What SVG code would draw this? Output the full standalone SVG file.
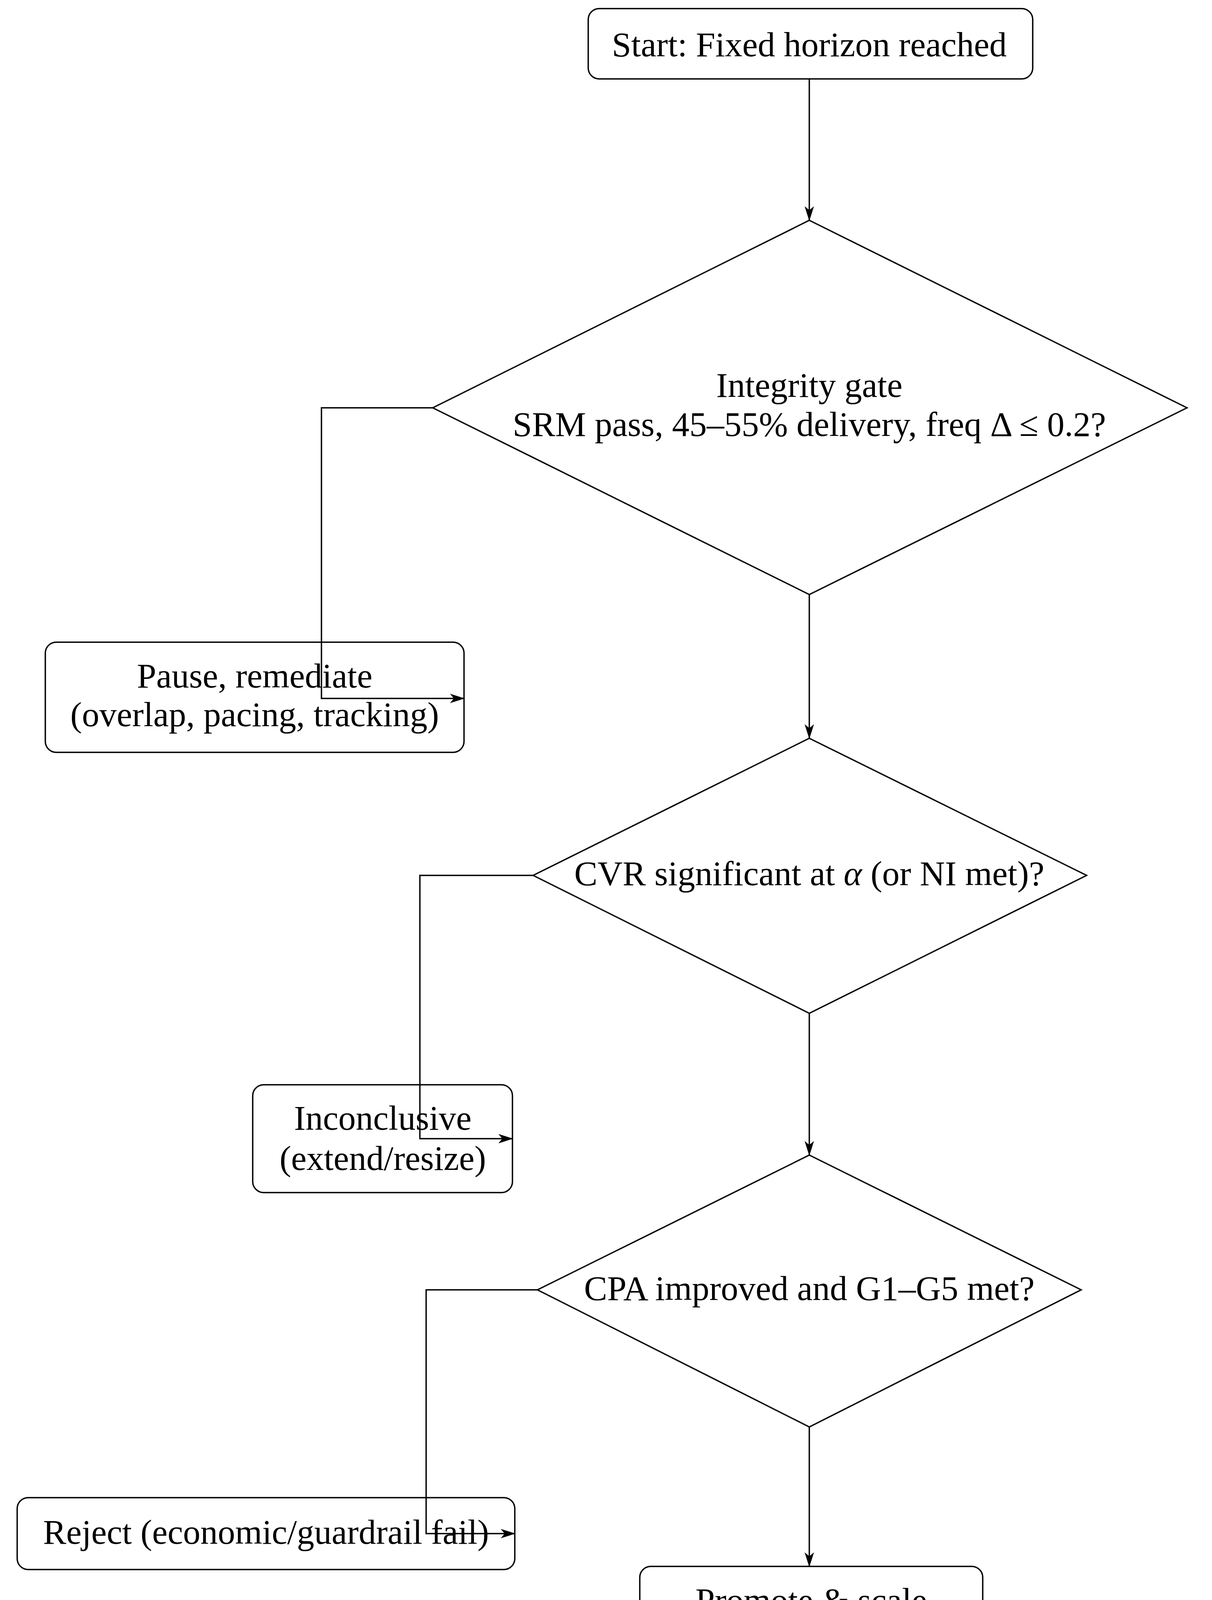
<svg xmlns="http://www.w3.org/2000/svg" width="3103" height="4325" viewBox="0 0 3103 4325">
<style>
.n{fill:#fff;stroke:#000;stroke-width:3.5}
.t{font-family:"Liberation Serif",serif;font-size:89px;text-anchor:middle;dominant-baseline:central;fill:#000}
</style>
<defs>
<marker id="b" markerWidth="38" markerHeight="24" refX="36" refY="12" orient="auto" markerUnits="userSpaceOnUse" viewBox="0 0 38 24"><path d="M0,0 L38,12 L0,24 L10,12 Z" fill="#000"/></marker></defs>
<g id="start"><rect class="n" x="1506" y="22" width="1138" height="180" rx="28"/><text class="t" x="2072" y="114">Start: Fixed horizon reached</text></g>
<g id="d1"><polygon class="n" points="2072,564 3039,1044 2072,1522 1108,1044"/><text class="t" x="2072" y="986">Integrity gate</text><text class="t" x="2072" y="1086">SRM pass, 45–55% delivery, freq Δ ≤ 0.2?</text></g>
<g id="pause"><rect class="n" x="116" y="1644" width="1072" height="282" rx="28"/><text class="t" x="652" y="1730">Pause, remediate</text><text class="t" x="652" y="1829">(overlap, pacing, tracking)</text></g>
<g id="d2"><polygon class="n" points="2072,1890 2782,2241 2072,2594 1365,2241"/><text class="t" x="2072" y="2236">CVR significant at <tspan font-style="italic">α</tspan> (or NI met)?</text></g>
<g id="inc"><rect class="n" x="647" y="2777" width="665" height="276" rx="28"/><text class="t" x="980" y="2862">Inconclusive</text><text class="t" x="980" y="2965">(extend/resize)</text></g>
<g id="d3"><polygon class="n" points="2072,2957 2768,3302 2072,3653 1376,3302"/><text class="t" x="2072" y="3298">CPA improved and G1–G5 met?</text></g>
<g id="reject"><rect class="n" x="44" y="3834" width="1274" height="184" rx="28"/><text class="t" x="681" y="3922">Reject (economic/guardrail fail)</text></g>
<g id="promote"><rect class="n" x="1638" y="4010" width="878" height="284" rx="28"/><text class="t" x="2077" y="4097">Promote &amp; scale</text><text class="t" x="2077" y="4197">with same guardrails</text></g>
<g id="connectors" fill="none" stroke="#000" stroke-width="3.5">
<path d="M2072,202 V564" marker-end="url(#b)"/>
<path d="M2072,1522 V1890" marker-end="url(#b)"/>
<path d="M2072,2594 V2957" marker-end="url(#b)"/>
<path d="M2072,3653 V4010" marker-end="url(#b)"/>
<path d="M1108,1044 H823 V1788 H1188" marker-end="url(#b)"/>
<path d="M1365,2241 H1075 V2915 H1312" marker-end="url(#b)"/>
<path d="M1376,3302 H1091 V3926 H1318" marker-end="url(#b)"/>
</g>
</svg>
